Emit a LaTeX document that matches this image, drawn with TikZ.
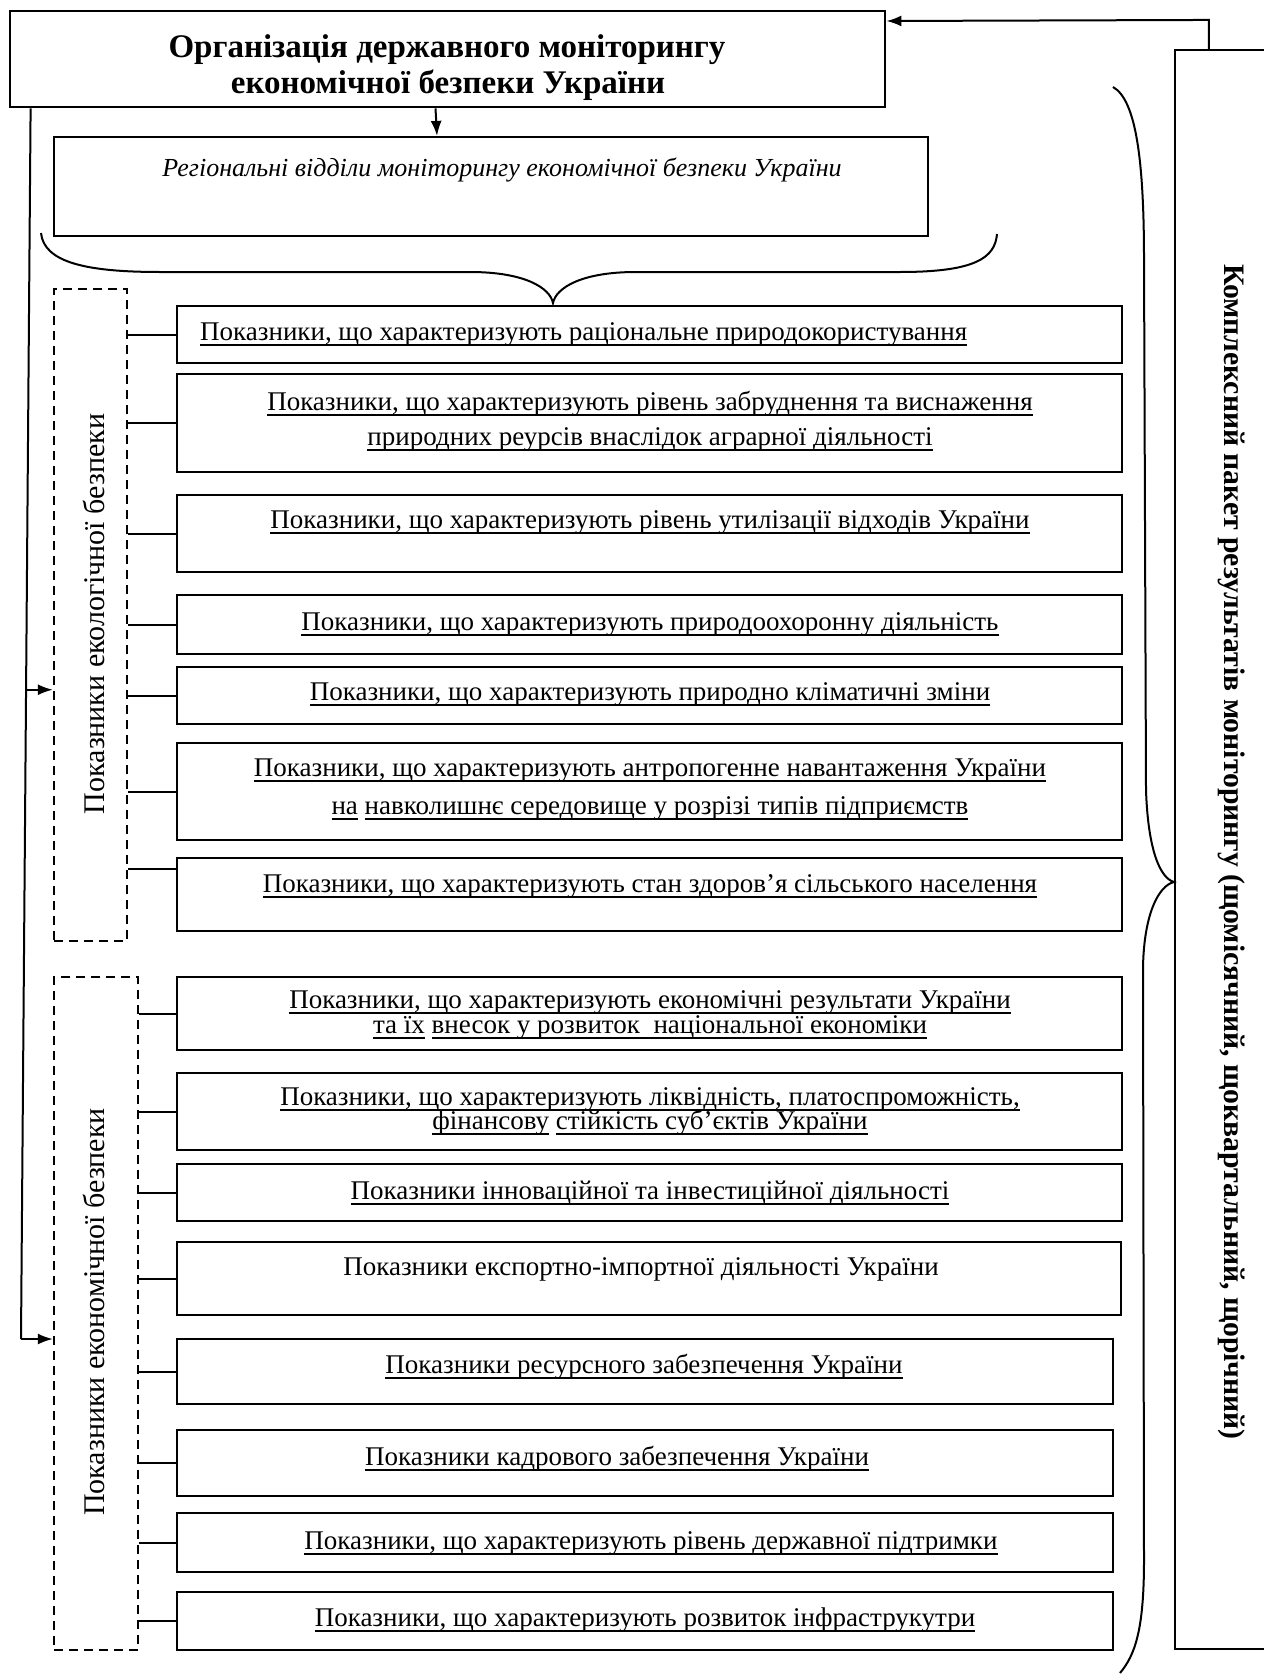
\documentclass[tikz,border=0pt]{standalone}
\usepackage{fontspec}
\setmainfont{Liberation Serif}
\usetikzlibrary{arrows.meta,fit,calc}
\newsavebox\ulbox
\newcommand\uln[1]{\sbox\ulbox{#1}\rlap{\rule[-0.21em]{\wd\ulbox}{0.08em}}\usebox\ulbox}
\begin{document}
\begin{tikzpicture}[x=1pt,y=-1pt,
  bx/.style={draw, line width=2.1pt, inner sep=0pt},
  bxt/.style={draw, line width=2.8pt, inner sep=0pt},
  dbx/.style={draw, line width=2.3pt, dash pattern=on 9pt off 6pt, inner sep=0pt},
  conn/.style={line width=2pt},
  arr/.style={line width=2pt, -{Latex[length=15pt,width=11pt]}},
  brc/.style={line width=2pt},
  tx/.style={font=\fontsize{27}{31}\selectfont, inner sep=0pt, anchor=base},
  ttl/.style={font=\fontsize{33}{38}\selectfont\bfseries, inner sep=0pt, anchor=base},
  vlab/.style={font=\fontsize{30}{34}\selectfont, inner sep=0pt, rotate=90},
]
\useasboundingbox (0,0) rectangle (1263,1675);

% main boxes
\node[bxt, fit={(10,11) (885,107)}] (top) {};
\node[bx, fit={(54,137) (928,236)}] (reg) {};
\node[bx, fit={(1175,50) (1280,1649)}] (rb) {};

% dashed group boxes
\node[dbx, fit={(54,289) (127,941)}] (d1) {};
\node[dbx, fit={(54,977) (138,1650)}] (d2) {};

% ecological indicator boxes
\node[bx, fit={(177,306) (1122,363)}] (b1) {};
\node[bx, fit={(177,374) (1122,472)}] (b2) {};
\node[bx, fit={(177,495) (1122,572)}] (b3) {};
\node[bx, fit={(177,595) (1122,654)}] (b4) {};
\node[bx, fit={(177,667) (1122,724)}] (b5) {};
\node[bx, fit={(177,743) (1122,840)}] (b6) {};
\node[bx, fit={(177,858) (1122,931)}] (b7) {};

% economic indicator boxes
\node[bx, fit={(177,977) (1122,1050)}] (e1) {};
\node[bx, fit={(177,1073) (1122,1150)}] (e2) {};
\node[bx, fit={(177,1164) (1122,1221)}] (e3) {};
\node[bx, fit={(177,1242) (1121,1315)}] (e4) {};
\node[bx, fit={(177,1339) (1113,1404)}] (e5) {};
\node[bx, fit={(177,1430) (1113,1496)}] (e6) {};
\node[bx, fit={(177,1513) (1113,1572)}] (e7) {};
\node[bx, fit={(177,1592) (1113,1650)}] (e8) {};

% texts
\node[ttl] (tt1) at (447,58) {Організація державного моніторингу};
\node[ttl] (tt2) at (448,94) {економічної безпеки України};
\node[tx, font=\fontsize{26}{30}\selectfont\itshape] (rt) at (502,176) {Регіональні відділи моніторингу економічної безпеки України};

\node[vlab] (l1) at (94,614) {Показники екологічної безпеки};
\node[vlab] (l2) at (94,1312) {Показники економічної безпеки};
\node[font=\fontsize{29.7}{34}\selectfont\bfseries, inner sep=0pt, rotate=-90] (rl) at (1232,852) {Комплексний пакет результатів моніторингу (щомісячний, щоквартальний, щорічний)};

\node[tx, anchor=base west] (t1) at (200,340) {\uln{Показники, що характеризують раціональне природокористування}};
\node[tx] (t2a) at (650,410) {\uln{Показники, що характеризують рівень забруднення та виснаження}};
\node[tx] (t2b) at (650,445) {\uln{природних реурсів внаслідок аграрної діяльності}};
\node[tx] (t3) at (650,528) {\uln{Показники, що характеризують рівень утилізації відходів України}};
\node[tx] (t4) at (650,630) {\uln{Показники, що характеризують природоохоронну діяльність}};
\node[tx] (t5) at (650,700) {\uln{Показники, що характеризують природно кліматичні зміни}};
\node[tx] (t6a) at (650,776) {\uln{Показники, що характеризують антропогенне навантаження України}};
\node[tx] (t6b) at (650,814) {\uln{на} \uln{навколишнє середовище у розрізі типів підприємств}};
\node[tx] (t7) at (650,892) {\uln{Показники, що характеризують стан здоров’я сільського населення}};

\node[tx] (te1a) at (650,1008) {\uln{Показники, що характеризують економічні результати України}};
\node[tx] (te1b) at (650,1033) {\uln{та їх} \uln{внесок у розвиток~ національної економіки}};
\node[tx] (te2a) at (650,1105) {\uln{Показники, що характеризують ліквідність, платоспроможність,}};
\node[tx] (te2b) at (650,1129) {\uln{фінансову} \uln{стійкість суб’єктів України}};
\node[tx] (te3) at (650,1199) {\uln{Показники інноваційної та інвестиційної діяльності}};
\node[tx] (te4) at (641,1275) {Показники експортно-імпортної діяльності України};
\node[tx] (te5) at (644,1373) {\uln{Показники ресурсного забезпечення України}};
\node[tx] (te6) at (617,1465) {\uln{Показники кадрового забезпечення України}};
\node[tx] (te7) at (651,1549) {\uln{Показники, що характеризують рівень державної підтримки}};
\node[tx] (te8) at (645,1626) {\uln{Показники, що характеризують розвиток інфраструкутри}};

% connectors from dashed boxes to indicator boxes
\foreach \b in {b1,b2,b3,b4,b5,b6}{
  \draw[conn] (d1.east |- \b.west) -- (\b.west);
}
\coordinate (c7) at ([yshift=26pt]b7.west);
\draw[conn] (d1.east |- c7) -- (c7);
\foreach \b in {e1,e2,e3,e4,e5,e6,e7,e8}{
  \draw[conn] (d2.east |- \b.west) -- (\b.west);
}

% top arrow
\draw[arr] ([xshift=-12pt]top.south) -- ([xshift=-54pt]reg.north);

% left feed line
\coordinate (lt) at ([xshift=22pt]top.south west);
\coordinate (lb) at (21,1339);
\coordinate (lm) at ($(lt)!0.4724!(lb)$);
\draw[conn] (lt) -- (lb);
\draw[arr] (lb) -- (d2.west |- lb);
\draw[arr] (lm) -- (d1.west |- lm);

% feedback arrow
\draw[arr] ([xshift=35pt]rb.north west) -- ++(0,-29) -- ([yshift=38pt]top.east);

% braces
\draw[brc] (41,233) .. controls (44,262) and (85,272) .. (160,272) -- (470,272)
  .. controls (525,272) and (550,288) .. (553,303)
  .. controls (556,288) and (581,272) .. (636,272) -- (900,272)
  .. controls (975,272) and (995,258) .. (997,234);
\draw[brc] (1113,87) .. controls (1136,100) and (1144,160) .. (1144,260) -- (1146,790)
  .. controls (1148,850) and (1160,878) .. (rb.west |- 0,882)
  .. controls (1158,886) and (1144,915) .. (1143,967) -- (1144,1560)
  .. controls (1144,1630) and (1135,1655) .. (1120,1673);
\end{tikzpicture}
\end{document}
